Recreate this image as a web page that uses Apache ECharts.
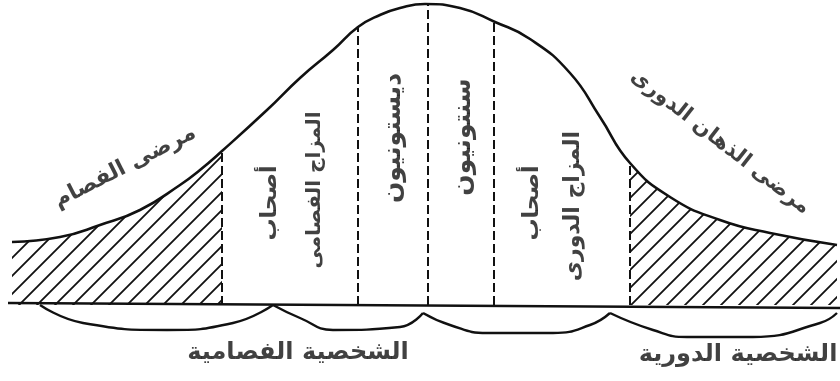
<!DOCTYPE html>
<html>
<head>
<meta charset="utf-8">
<script src="https://cdn.jsdelivr.net/npm/echarts@6/dist/echarts.min.js"></script>
<style>
  html, body { margin: 0; background: #fff; }
  #chart { width: 840px; height: 381px; }
</style>
</head>
<body>
<div id="chart"></div>
<script>
// bell curve: height above the ground line
const curveX = [12, 60, 100, 140, 180, 200, 222, 267, 300, 333, 358, 380, 400, 425, 460, 495, 530, 570, 600, 630, 670, 720, 770, 837];
const curveY = [63, 68, 80, 95, 120, 135, 154, 195, 227, 255, 278, 290, 297, 301, 297, 283, 266, 232, 188, 142, 108, 85, 72, 60];

// ground line
const groundX = [8, 840];
const groundY = [2, -3];

// dashed dividers
const dashX = [222, 358, 428, 494, 630];
const dashTop = [154, 278, 301, 283, 142];

// braces under the ground line
const braceX = [
  [40, 83, 167, 233, 273],
  [273, 300, 333, 400, 423],
  [423, 450, 487, 553, 590, 610],
  [610, 653, 687, 753, 820, 837]
];
const braceY = [
  [0, -18, -25, -18, 0],
  [0, -13, -25, -22, -8],
  [-8, -20, -28, -28, -20, -8],
  [-8, -25, -32, -32, -18, -8]
];

// text labels
const labelText = ['مرضى الفصام', 'مرضى الذهان الدورى', 'أصحاب', 'المزاج الفصامى', 'ديستونيون', 'سنتونيون', 'أصحاب', 'المزاج الدورى', 'الشخصية الفصامية', 'الشخصية الدورية'];
const labelX = [125, 720, 270, 315, 393, 463, 532, 573, 298, 738];
const labelY = [138, 163, 102, 115, 167, 168, 102, 99, -48, -50];
const labelRot = [27, -38, 90, 90, 90, 90, 90, 90, 0, 0];
const labelSize = [22, 21, 22, 20, 25, 25, 22, 22, 24, 24];

const chart = echarts.init(document.getElementById('chart'));

// diagonal hatch tile
const tile = document.createElement('canvas');
tile.width = 18; tile.height = 18;
const tc = tile.getContext('2d');
tc.strokeStyle = '#111';
tc.lineWidth = 1.8;
tc.beginPath();
tc.moveTo(-2, 20); tc.lineTo(20, -2);
tc.moveTo(-2, 2); tc.lineTo(2, -2);
tc.moveTo(16, 20); tc.lineTo(20, 16);
tc.stroke();

const curve = curveX.map((x, i) => [x, curveY[i]]);
const leftHatch = curve.filter(p => p[0] <= 222);
const rightHatch = curve.filter(p => p[0] >= 630);

const series = [];

series.push({
  type: 'line', data: leftHatch, smooth: 0.5, symbol: 'none',
  lineStyle: { width: 0 },
  areaStyle: { color: { image: tile, repeat: 'repeat' }, opacity: 1 },
  z: 1
});
series.push({
  type: 'line', data: rightHatch, smooth: 0.5, symbol: 'none',
  lineStyle: { width: 0 },
  areaStyle: { color: { image: tile, repeat: 'repeat' }, opacity: 1 },
  z: 1
});

series.push({
  type: 'line', data: curve, smooth: 0.5, symbol: 'none',
  lineStyle: { color: '#111', width: 2.6 }, z: 3
});

series.push({
  type: 'line', data: groundX.map((x, i) => [x, groundY[i]]), symbol: 'none',
  lineStyle: { color: '#111', width: 2.6 }, z: 3
});

dashX.forEach((x, i) => {
  series.push({
    type: 'line', data: [[x, 0], [x, dashTop[i]]], symbol: 'none',
    lineStyle: { color: '#111', width: 2, type: [9, 4] }, z: 2
  });
});

braceX.forEach((xs, k) => {
  series.push({
    type: 'line', data: xs.map((x, i) => [x, braceY[k][i]]), smooth: 0.5, symbol: 'none',
    lineStyle: { color: '#111', width: 2.4 }, z: 3
  });
});

series.push({
  type: 'scatter', symbolSize: 0, z: 5,
  data: labelText.map((t, i) => ({
    value: [labelX[i], labelY[i]],
    label: { formatter: t, rotate: labelRot[i], fontSize: labelSize[i] }
  })),
  label: {
    show: true, position: 'inside', align: 'center', verticalAlign: 'middle',
    color: '#111', fontWeight: 'bold', fontFamily: 'DejaVu Sans'
  }
});

chart.setOption({
  animation: false,
  backgroundColor: '#fff',
  grid: { left: 0, right: 0, top: 0, bottom: 0 },
  xAxis: { type: 'value', min: 0, max: 840, show: false },
  yAxis: { type: 'value', min: -76, max: 305, show: false },
  series: series
});
</script>
</body>
</html>
